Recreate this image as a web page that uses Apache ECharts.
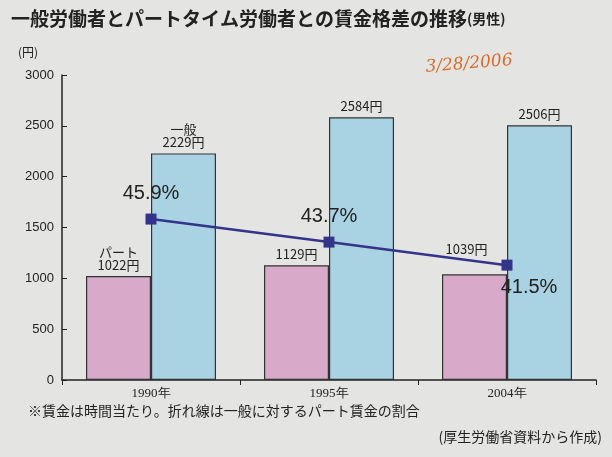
<!DOCTYPE html>
<html><head><meta charset="utf-8">
<script src="https://cdn.jsdelivr.net/npm/echarts@6/dist/echarts.min.js"></script>
<style>body{margin:0;background:#e4e4e2}#c{width:612px;height:457px}</style>
</head><body><div id="c"></div>
<script>
var years = ['1990年', '1995年', '2004年'];
var partWage = [1022, 1129, 1039];
var fullWage = [2229, 2584, 2506];
var ratio = [45.9, 43.7, 41.5];
var yTicks = [0, 500, 1000, 1500, 2000, 2500, 3000];

var chart = echarts.init(document.getElementById('c'));
var font = '"Noto Sans CJK JP", sans-serif';
chart.setOption({
  backgroundColor: '#e4e4e2',
  animation: false,
  title: {
    text: '一般労働者とパートタイム労働者との賃金格差の推移{s|(男性)}',
    left: 6, top: 4,
    textStyle: { fontFamily: font, fontSize: 19, fontWeight: 'bold', color: '#222',
      rich: { s: { fontFamily: font, fontSize: 14, color: '#222' } } }
  },
  graphic: [
    { type: 'text', left: 18, top: 46, style: { text: '(円)', font: '12px ' + font, fill: '#222' } },
    { type: 'text', left: 425, top: 52, rotation: 0.08, style: { text: '3/28/2006', font: 'italic 17px "DejaVu Serif"', fill: '#d86a2a' } },
    { type: 'text', left: 28, top: 404, style: { text: '※賃金は時間当たり。折れ線は一般に対するパート賃金の割合', font: '14px ' + font, fill: '#222' } },
    { type: 'text', right: 10, top: 430, style: { text: '(厚生労働省資料から作成)', font: '14px ' + font, fill: '#222' } }
  ],
  grid: { left: 62, right: 16, top: 75, bottom: 77 },
  xAxis: {
    type: 'category', data: years,
    axisLine: { lineStyle: { color: '#222', width: 1.5 } },
    axisTick: { show: true, length: 5, lineStyle: { color: '#222' } },
    axisLabel: { fontFamily: '"Liberation Serif", serif', fontSize: 13, color: '#222', margin: 7 }
  },
  yAxis: [{
    type: 'value', min: 0, max: 3000, interval: 500,
    axisLine: { show: true, lineStyle: { color: '#222', width: 1.5 } },
    axisTick: { show: true, inside: true, length: 5, lineStyle: { color: '#222' } },
    splitLine: { show: false },
    axisLabel: { fontFamily: '"Liberation Sans", sans-serif', fontSize: 13, color: '#222',
      formatter: function (v) { return yTicks.indexOf(v) >= 0 ? v : ''; } }
  }, {
    type: 'value', min: 30.53, max: 59.66, show: false
  }],
  series: [{
    type: 'bar', data: partWage, barWidth: 65, barGap: '0%',
    itemStyle: { color: '#d8a9c8', borderColor: '#333', borderWidth: 1.2 },
    label: { show: true, position: 'top', fontFamily: font, fontSize: 13, color: '#222',
      formatter: function (p) { return (p.dataIndex === 0 ? 'パート\n' : '') + p.value + '円'; } },
    labelLayout: function (p) { return p.dataIndex === 2 ? { dx: -8, dy: -14 } : {}; }
  }, {
    type: 'bar', data: fullWage, barWidth: 65,
    itemStyle: { color: '#a9d2e2', borderColor: '#333', borderWidth: 1.2 },
    label: { show: true, position: 'top', fontFamily: font, fontSize: 13, color: '#222',
      formatter: function (p) { return (p.dataIndex === 0 ? '一般\n' : '') + p.value + '円'; } }
  }, {
    type: 'line', yAxisIndex: 1, data: ratio,
    symbol: 'rect', symbolSize: 11,
    lineStyle: { color: '#33348a', width: 2.5 },
    itemStyle: { color: '#33348a' },
    label: { show: true, fontFamily: '"Liberation Sans", sans-serif', fontSize: 20, color: '#222',
      formatter: '{c}%', position: 'top', distance: 6 },
    labelLayout: function (p) {
      if (p.dataIndex === 2) return { dy: 44, dx: 22 };
      return { dy: -4 };
    }
  }]
});
</script></body></html>
